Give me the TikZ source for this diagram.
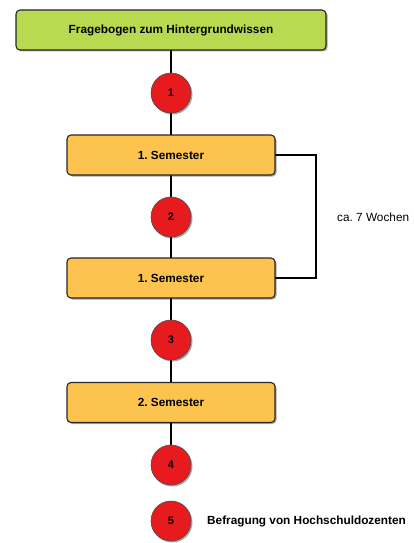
\documentclass[tikz,border=0pt]{standalone}
\usepackage{fontspec}
\setmainfont{Liberation Sans}
\frenchspacing
\usetikzlibrary{shadows}
\definecolor{boxgreen}{HTML}{B7DA50}
\definecolor{boxyellow}{HTML}{FCC44F}
\definecolor{dotred}{HTML}{E71A1D}
\tikzset{
  stepbox/.style={draw=black!85, line width=1.1pt, rounded corners=4pt, minimum height=40pt,
    font=\bfseries\fontsize{11.8}{13}\selectfont,
    drop shadow={shadow xshift=1.5pt, shadow yshift=-1.5pt, opacity=0.35, fill=black}},
  numdot/.style={circle, draw=black!70, line width=0.6pt, fill=dotred, minimum size=40pt, inner sep=0pt,
    font=\bfseries\fontsize{11}{12}\selectfont,
    drop shadow={shadow xshift=1.5pt, shadow yshift=-1.5pt, opacity=0.35, fill=black}},
  link/.style={line width=1.8pt, draw=black}
}
\begin{document}
\begin{tikzpicture}[x=1pt,y=-1pt]
\useasboundingbox (0,0) rectangle (413,543);
% connectors first
\coordinate (g) at (171,30);
\coordinate (s1) at (171,155);
\coordinate (s2) at (171,278);
\coordinate (s3) at (171,402.5);
\coordinate (c4) at (171,465);
\draw[link] (g) -- (c4);
\coordinate (k1) at (316,155);
\coordinate (k2) at (316,278);
\draw[link] (275,155) -- (k1) -- (k2) -- (275,278);
\node[stepbox, fill=boxgreen, minimum width=310pt] (fb) at (g) {Fragebogen zum Hintergrundwissen};
\node[stepbox, fill=boxyellow, minimum width=208pt] (sem1) at (s1) {1. Semester};
\node[stepbox, fill=boxyellow, minimum width=208pt] (sem2) at (s2) {1. Semester};
\node[stepbox, fill=boxyellow, minimum width=208pt] (sem3) at (s3) {2. Semester};
\node[numdot] (n1) at (171,93) {1};
\node[numdot] (n2) at (171,217) {2};
\node[numdot] (n3) at (171,340) {3};
\node[numdot] (n4) at (c4) {4};
\node[numdot] (n5) at (171,521) {5};
\node[font=\fontsize{11.8}{13}\selectfont, anchor=west, inner sep=0pt] (wochen) at (337,217) {ca. 7 Wochen};
\node[font=\bfseries\fontsize{11.8}{13}\selectfont, anchor=west, inner sep=0pt] (befr) at (207,521) {Befragung von Hochschuldozenten};
\end{tikzpicture}
\end{document}
